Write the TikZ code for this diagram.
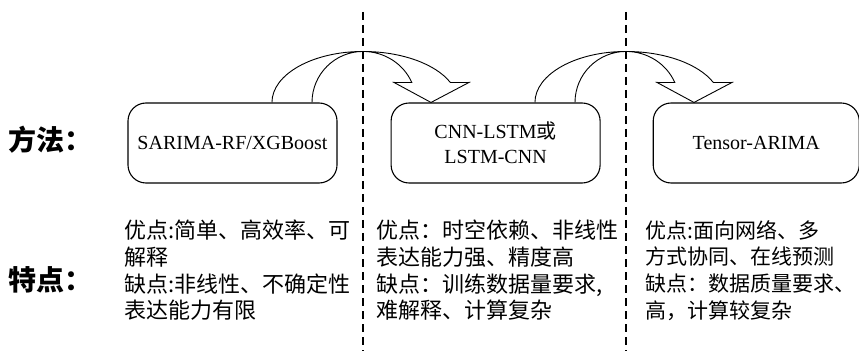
\documentclass[tikz,border=0pt]{standalone}
\usepackage{fontspec}
\setmainfont{Liberation Serif}
\newfontfamily\cjk{Noto Sans CJK SC}
\usetikzlibrary{positioning}

\tikzset{
  methodbox/.style={draw,rounded corners=18pt,line width=1.1pt,minimum width=209pt,minimum height=80pt,
    align=center,font=\fontsize{20}{25}\selectfont},
  notes/.style={anchor=north west,inner sep=0pt,align=left,font=\cjk\fontsize{22}{26.7}\selectfont},
  rowlabel/.style={font=\cjk\bfseries\fontsize{28}{30}\selectfont},
  divider/.style={line width=1.4pt,dash pattern=on 8pt off 5pt},
  % curved block arrow, placed at its top point
  bendarrow/.pic={
    \draw[line width=0.9pt] (-51,-51) arc[start angle=180,end angle=90,x radius=51,y radius=51]
      arc[start angle=90,end angle=23,x radius=53,y radius=51]
      -- (31,-31) -- (68,-51) -- (106,-31) -- (87.4,-31.1)
      arc[start angle=23,end angle=90,x radius=95,y radius=51]
      arc[start angle=90,end angle=180,x radius=91,y radius=51];
  }
}

\begin{document}
\begin{tikzpicture}[x=1pt,y=1pt]
    \useasboundingbox (0,0) rectangle (859,351);

    % row labels
    \node[rowlabel] (method) at (51,211) {方法：};
    \node[rowlabel] (feature) at (51,71) {特点：};

    % the three methods
    \node[methodbox] (sarima) at (232.5,208) {SARIMA-RF/XGBoost};
    \node[methodbox,right=53pt of sarima] (cnn) {CNN-LSTM{\cjk 或}\\LSTM-CNN};
    \node[methodbox,minimum width=206pt,right=52pt of cnn] (tensor) {Tensor-ARIMA};

    % column dividers
    \coordinate (cut1) at (363,339);
    \coordinate (cut2) at (626,339);
    \draw[divider] (cut1) -- (cut1 |- 0,0);
    \draw[divider] (cut2) -- (cut2 |- 0,0);

    % arrows between the methods
    \path (cut1 |- sarima.north) ++(0,51) pic {bendarrow};
    \path (cut2 |- cnn.north) ++(0,51) pic {bendarrow};

    % pros and cons
    \node[notes] (notes1) at (124,131) {优点:简单、高效率、可\\解释\\缺点:非线性、不确定性\\表达能力有限};
    \node[notes] (notes2) at (376,131) {优点：时空依赖、非线性\\表达能力强、精度高\\缺点：训练数据量要求,\\难解释、计算复杂};
    \node[notes,font=\cjk\fontsize{21}{26.7}\selectfont] (notes3) at (645,131) {优点:面向网络、多\\方式协同、在线预测\\缺点：数据质量要求、\\高，计算较复杂};
\end{tikzpicture}
\end{document}
